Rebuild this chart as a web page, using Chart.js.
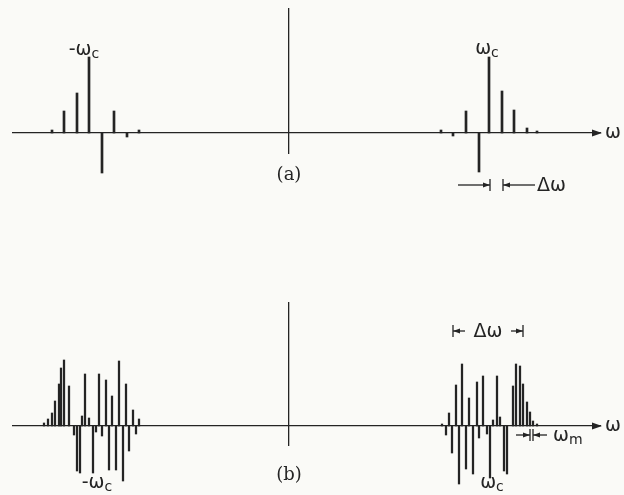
<!DOCTYPE html>
<html>
<head>
<meta charset="utf-8">
<script src="https://cdn.jsdelivr.net/npm/chart.js@4/dist/chart.umd.min.js"></script>
<style>
  body { margin: 0; background: #fafaf7; }
  .panel { position: absolute; left: 0; }
</style>
</head>
<body>
<div class="panel" style="top:0"><canvas id="chartA" width="624" height="250"></canvas></div>
<div class="panel" style="top:250px"><canvas id="chartB" width="624" height="245"></canvas></div>
<script>
// frequency positions (0 = centre, ωc ≈ 200) and line amplitudes
const freqA = [-237, -225, -212, -200, -187, -175, -162, -150,
               152, 164, 177, 190, 200, 213, 225, 238, 248];
const ampA  = [3, 22, 40, 76, -40, 22, -4, 3,
               3, -3, 22, -39, 76, 42, 23, 5, 2];

const freqB = [-245, -241, -237, -234, -230, -228, -225, -220, -215, -212, -209, -207, -204, -200,
               -196, -193, -190, -187, -183, -180, -177, -173, -170, -166, -163, -160, -156, -153, -150,
               153, 157, 160, 163, 167, 170, 173, 177, 180, 184, 188, 190, 194, 198, 201, 204,
               208, 211, 215, 218, 224, 227, 231, 234, 238, 241, 244, 248];
const ampB  = [3, 7, 13, 25, 42, 58, 66, 40, -9, -45, -47, 10, 52, 8,
               -47, -6, 52, -10, 46, -44, 30, -44, 65, -55, 42, -25, 16, -8, 7,
               2, -9, 13, -27, 41, -58, 62, -43, 28, -48, 44, -12, 50, -8, -52, 6,
               50, 9, -45, -48, 40, 62, 60, 42, 24, 14, 5, 2];

const INK = '#242424';
const SANS = '"DejaVu Sans", sans-serif';

function drawSym(ctx, main, sub, px, py, align) {
  ctx.font = '19px ' + SANS;
  const wm = ctx.measureText(main).width;
  ctx.font = '14px ' + SANS;
  const ws = sub ? ctx.measureText(sub).width : 0;
  let x0 = px;
  if (align === 'center') x0 = px - (wm + ws) / 2;
  ctx.textAlign = 'left';
  ctx.textBaseline = 'alphabetic';
  ctx.font = '19px ' + SANS;
  ctx.fillText(main, x0, py);
  if (sub) {
    ctx.font = '14px ' + SANS;
    ctx.fillText(sub, x0 + wm, py + 3);
  }
}

function arrowHead(ctx, tip, y, dir) {
  ctx.beginPath();
  ctx.moveTo(tip, y);
  ctx.lineTo(tip - dir * 7, y - 2.6);
  ctx.lineTo(tip - dir * 7, y + 2.6);
  ctx.closePath();
  ctx.fill();
}

function line(ctx, x1, y1, x2, y2) {
  ctx.beginPath();
  ctx.moveTo(x1, y1);
  ctx.lineTo(x2, y2);
  ctx.stroke();
}

const decor = {
  id: 'decor',
  afterDraw(chart, args, opts) {
    const ctx = chart.ctx;
    const X = v => chart.scales.x.getPixelForValue(v);
    const Y = v => chart.scales.y.getPixelForValue(v);
    ctx.save();
    ctx.fillStyle = INK;
    ctx.strokeStyle = INK;
    ctx.lineWidth = 1.3;

    // arrow at the end of the ω axis
    const ax = chart.chartArea.right + 1, ay = Y(0);
    ctx.beginPath();
    ctx.moveTo(ax + 1, ay);
    ctx.lineTo(ax - 9, ay - 3.5);
    ctx.lineTo(ax - 9, ay + 3.5);
    ctx.closePath();
    ctx.fill();
    drawSym(ctx, 'ω', '', ax + 4, ay + 5, 'left');

    (opts.labels || []).forEach(l => drawSym(ctx, l.main, l.sub, X(l.x), Y(l.y), l.align));

    (opts.spans || []).forEach(s => {
      const x1 = X(s.x1), x2 = X(s.x2), y = Y(s.y);
      line(ctx, x1, y - 6, x1, y + 6);
      line(ctx, x2, y - 6, x2, y + 6);
      if (s.style === 'in') {
        line(ctx, X(s.x1 - s.len), y, x1, y);
        line(ctx, x2, y, X(s.x2 + s.len), y);
        arrowHead(ctx, x1, y, 1);
        arrowHead(ctx, x2, y, -1);
      } else {
        line(ctx, x1, y, X(s.x1 + s.len), y);
        line(ctx, X(s.x2 - s.len), y, x2, y);
        arrowHead(ctx, x1, y, -1);
        arrowHead(ctx, x2, y, 1);
      }
    });

    if (opts.caption) {
      ctx.font = '18px "DejaVu Serif", serif';
      ctx.textAlign = 'center';
      ctx.textBaseline = 'middle';
      ctx.fillText(opts.caption.text, X(opts.caption.x), Y(opts.caption.y));
    }
    ctx.restore();
  }
};

function makeChart(id, freq, amp, barWidth, yMin, yMax, padding, decorOpts) {
  return new Chart(document.getElementById(id), {
    type: 'bar',
    data: {
      datasets: [{
        data: freq.map((f, i) => ({ x: f, y: amp[i] })),
        backgroundColor: INK,
        barThickness: barWidth,
        clip: false
      }]
    },
    options: {
      responsive: false,
      animation: false,
      events: [],
      devicePixelRatio: 1,
      layout: { padding: padding },
      plugins: { legend: { display: false }, tooltip: { enabled: false }, decor: decorOpts },
      scales: {
        x: {
          type: 'linear', min: -276, max: 311,
          offset: false,
          position: { y: 0 },
          grid: { display: false },
          ticks: { display: false },
          border: { display: true, color: INK, width: 1.3 }
        },
        y: {
          min: yMin, max: yMax,
          position: { x: 0 },
          grid: { display: false },
          ticks: { display: false },
          border: { display: true, color: INK, width: 1.3 }
        }
      }
    },
    plugins: [decor]
  });
}

makeChart('chartA', freqA, ampA, 2, -20, 124,
  { left: 13, right: 24, top: 9, bottom: 97 },
  {
    labels: [
      { main: '-ω', sub: 'c', x: -205, y: 78, align: 'center' },
      { main: 'ω', sub: 'c', x: 198, y: 79, align: 'center' },
      { main: 'Δω', sub: '', x: 248, y: -58, align: 'left' }
    ],
    spans: [{ x1: 201, x2: 214, y: -52, len: 32, style: 'in' }],
    caption: { text: '(a)', x: 0, y: -42 }
  });

makeChart('chartB', freqB, ampB, 1.6, -19, 123,
  { left: 13, right: 24, top: 53, bottom: 50 },
  {
    labels: [
      { main: 'Δω', sub: '', x: 199, y: 89, align: 'center' },
      { main: '-ω', sub: 'c', x: -192, y: -62, align: 'center' },
      { main: 'ω', sub: 'c', x: 203, y: -62, align: 'center' },
      { main: 'ω', sub: 'm', x: 264, y: -15, align: 'left' }
    ],
    spans: [
      { x1: 164, x2: 234, y: 95, len: 12, style: 'out' },
      { x1: 241, x2: 244, y: -9, len: 14, style: 'in' }
    ],
    caption: { text: '(b)', x: 0, y: -49 }
  });
</script>
</body>
</html>
